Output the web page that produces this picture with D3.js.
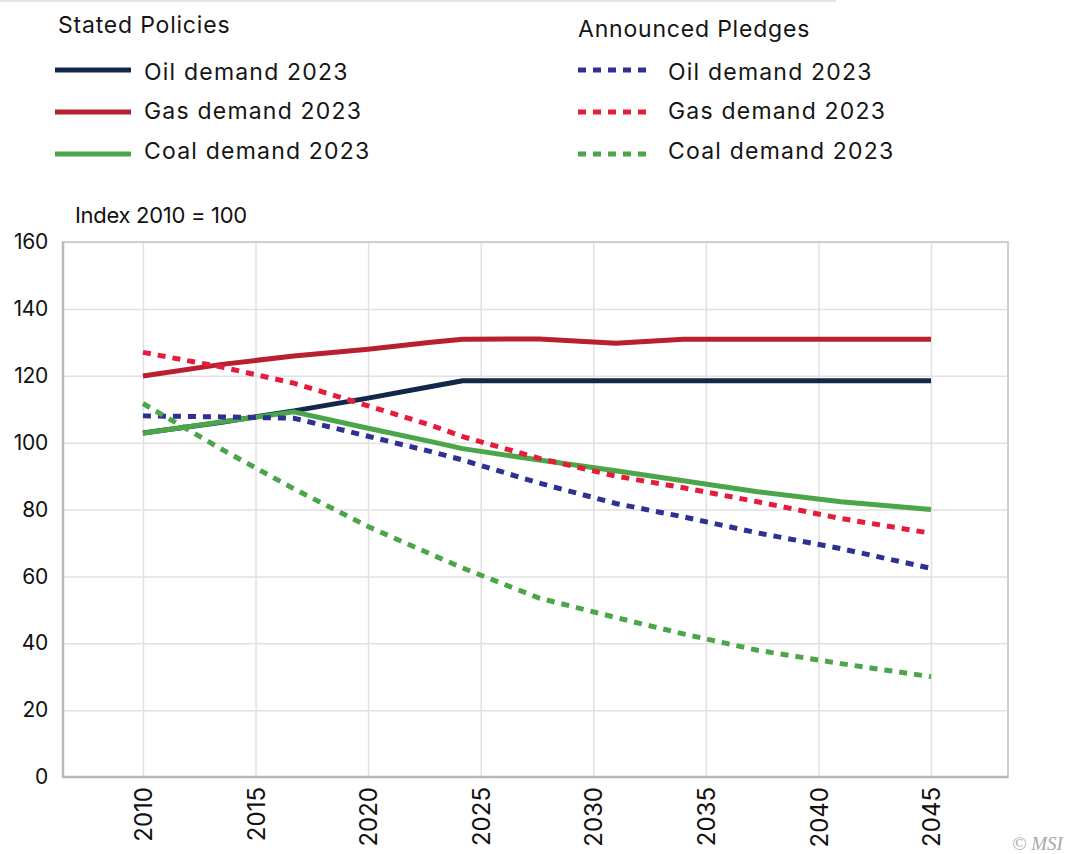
<!DOCTYPE html>
<html lang="en">

<head>
    <meta charset="UTF-8">
    <title>Oil, gas and coal demand index</title>
    <script src="https://d3js.org/d3.v7.min.js"></script>
    <style>
        body {
            margin: 0;
            background: #fff;
            font-family: Inter, "Noto Sans", sans-serif;
        }

        .grid line {
            stroke: #e1e1e1;
            stroke-width: 1.5;
        }

        .grid path {
            display: none;
        }

        .tick-label {
            fill: #111;
        }

        .legend-text {
            font-size: 23px;
            letter-spacing: 1.2px;
            fill: #151515;
        }
    </style>
</head>

<body>
    <svg id="chart" width="1069" height="854"></svg>

    <script>
        // years where the curves bend
        const years = [2010, 2013.5, 2016.7, 2020, 2022.8, 2024.2, 2027.6, 2031, 2034, 2037.3, 2041, 2045];

        // Stated Policies
        const oilStated  = [102.9, 106.1, 109.5, 113.3, 116.8, 118.5, 118.5, 118.5, 118.5, 118.5, 118.5, 118.5];
        const gasStated  = [119.9, 123.4, 125.9, 127.9, 130.0, 130.9, 131.0, 129.7, 130.9, 130.9, 130.9, 130.9];
        const coalStated = [102.8, 106.2, 109.2, 104.3, 100.3, 98.2, 94.8, 91.6, 88.6, 85.3, 82.3, 80.0];

        // Announced Pledges
        const oilPledges  = [108.0, 107.7, 107.3, 101.9, 97.3, 94.8, 87.9, 81.8, 77.8, 73.0, 68.3, 62.4];
        const gasPledges  = [127.0, 122.6, 117.8, 111.0, 105.2, 101.8, 95.3, 90.0, 86.5, 82.3, 77.3, 72.9];
        const coalPledges = [111.7, 98.0, 86.2, 74.9, 66.6, 62.5, 53.5, 47.7, 42.8, 37.9, 33.9, 30.0];

        const xTicks = [2010, 2015, 2020, 2025, 2030, 2035, 2040, 2045];
        const yTicks = [0, 20, 40, 60, 80, 100, 120, 140, 160];

        const seriesNames = ["Oil demand 2023", "Gas demand 2023", "Coal demand 2023"];

        const series = [
            { group: 0, name: seriesNames[0], values: oilStated, color: "#10294a", dash: null },
            { group: 0, name: seriesNames[1], values: gasStated, color: "#b8202f", dash: null },
            { group: 0, name: seriesNames[2], values: coalStated, color: "#4aa648", dash: null },
            { group: 1, name: seriesNames[0], values: oilPledges, color: "#2e3192", dash: "8,7" },
            { group: 1, name: seriesNames[1], values: gasPledges, color: "#e31d3b", dash: "8,7" },
            { group: 1, name: seriesNames[2], values: coalPledges, color: "#4aa648", dash: "8,7" }
        ];

        const margin = { top: 242, right: 61, bottom: 77, left: 63 };
        const width = 1069 - margin.left - margin.right;
        const height = 854 - margin.top - margin.bottom;

        const svg = d3.select("#chart");

        // thin rule across the top
        svg.append("line")
            .attr("x1", 0).attr("x2", 836)
            .attr("y1", 1).attr("y2", 1)
            .attr("stroke", "#e4e4e4")
            .attr("stroke-width", 2);

        const g = svg.append("g")
            .attr("transform", `translate(${margin.left},${margin.top})`);

        const x = d3.scaleLinear()
            .domain([2006.45, 2048.42])
            .range([0, width]);

        const y = d3.scaleLinear()
            .domain([0, 160])
            .range([height, 0]);

        // grid
        g.append("g")
            .attr("class", "grid")
            .attr("transform", `translate(0,${height})`)
            .call(d3.axisBottom(x).tickValues(xTicks).tickSize(-height).tickFormat(""));

        g.append("g")
            .attr("class", "grid")
            .call(d3.axisLeft(y).tickValues(yTicks).tickSize(-width).tickFormat(""));

        // frame
        g.append("rect")
            .attr("width", width)
            .attr("height", height)
            .attr("fill", "none")
            .attr("stroke", "#cdd0d3")
            .attr("stroke-width", 2);

        g.append("path")
            .attr("d", `M0,0V${height}H${width}`)
            .attr("fill", "none")
            .attr("stroke", "#b6babe")
            .attr("stroke-width", 2.5);

        // y tick labels
        const yAxis = g.append("g")
            .call(d3.axisLeft(y).tickValues(yTicks).tickSize(0).tickPadding(15));
        yAxis.select(".domain").remove();
        yAxis.selectAll("text")
            .attr("class", "tick-label")
            .style("font-family", "Inter, sans-serif")
            .style("font-size", "21px")
            .style("letter-spacing", "-0.3px");

        // x tick labels, rotated
        const xAxis = g.append("g")
            .attr("transform", `translate(0,${height})`)
            .call(d3.axisBottom(x).tickValues(xTicks).tickSize(0).tickFormat(d3.format("d")));
        xAxis.select(".domain").remove();
        xAxis.selectAll("text")
            .attr("class", "tick-label")
            .style("font-family", "Inter, sans-serif")
            .style("font-size", "24px")
            .style("text-anchor", "end")
            .attr("transform", "rotate(-90)")
            .attr("x", -10)
            .attr("y", 0)
            .attr("dy", "0.36em");

        // y axis title
        svg.append("text")
            .attr("x", 75)
            .attr("y", 223)
            .style("font-size", "22px")
            .style("letter-spacing", "-0.3px")
            .style("fill", "#111")
            .text("Index 2010 = 100");

        // lines
        const line = d3.line()
            .x((d, i) => x(years[i]))
            .y(d => y(d));

        g.selectAll(".series")
            .data(series)
            .enter().append("path")
            .attr("class", "series")
            .attr("d", d => line(d.values))
            .attr("fill", "none")
            .attr("stroke", d => d.color)
            .attr("stroke-width", 5)
            .attr("stroke-linejoin", "round")
            .attr("stroke-dasharray", d => d.dash);

        // legend
        const legendGroups = [
            { title: "Stated Policies", x: 55, titleX: 58, titleY: 33, textX: 144 },
            { title: "Announced Pledges", x: 578, titleX: 578, titleY: 36.5, textX: 668 }
        ];
        const rowY = [70, 112, 154];
        const textY = [79.5, 119, 159];

        legendGroups.forEach((lg, gi) => {
            svg.append("text")
                .attr("class", "legend-text")
                .attr("x", lg.titleX)
                .attr("y", lg.titleY)
                .style("letter-spacing", "0.8px")
                .text(lg.title);

            series.filter(s => s.group === gi).forEach((s, i) => {
                svg.append("line")
                    .attr("x1", lg.x)
                    .attr("x2", gi === 0 ? lg.x + 76 : lg.x + 72)
                    .attr("y1", rowY[i])
                    .attr("y2", rowY[i])
                    .attr("stroke", s.color)
                    .attr("stroke-width", 5)
                    .attr("stroke-dasharray", s.dash);

                svg.append("text")
                    .attr("class", "legend-text")
                    .attr("x", lg.textX)
                    .attr("y", textY[i])
                    .text(s.name);
            });
        });

        // credit
        svg.append("text")
            .attr("x", 1012)
            .attr("y", 850)
            .style("font-family", "'Liberation Serif', serif")
            .style("font-style", "italic")
            .style("font-size", "19px")
            .style("fill", "#a8a8a8")
            .text("© MSI");
    </script>
</body>

</html>
